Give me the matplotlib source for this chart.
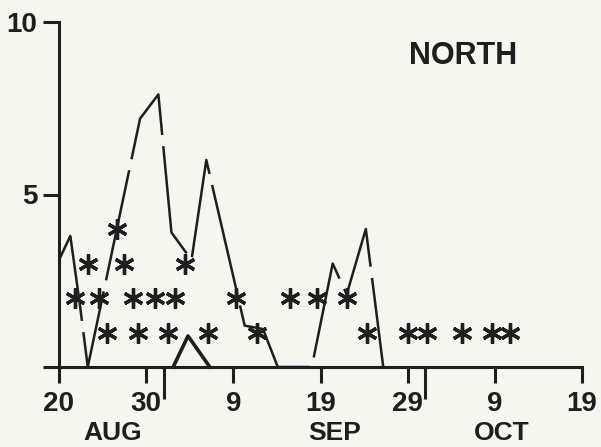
import matplotlib.pyplot as plt
from matplotlib.ticker import FixedLocator

# days counted from 20 AUG
line_day = [0, 1.3, 2.4, 3.3, 9.3, 11.4, 12.9, 15.2, 16.9, 21.3, 23.4, 25.1, 29, 31.4, 33, 35.2, 37.2]
line_val = [3.1, 3.8, 1.8, 0, 7.2, 7.9, 3.9, 3.1, 6.0, 1.2, 1.1, 0, 0, 3.0, 2.1, 4.0, 0]

star_day = [1.8, 3.3, 4.6, 5.5, 6.6, 7.4, 8.5, 9.1, 11.0, 12.5, 13.3, 14.4, 17.1,
            20.3, 22.7, 26.5, 29.6, 33.0, 35.3, 40.0, 42.2, 46.2, 49.7, 51.7]
star_val = [2, 3, 2, 1, 4, 3, 2, 1, 2, 1, 2, 3, 1,
            2, 1, 2, 2, 2, 1, 1, 1, 1, 1, 1]

tri_day = [13.1, 14.8, 17.3]
tri_val = [0, 0.9, 0]

tick_day = [0, 10, 20, 30, 40, 50, 60]
tick_lab = ['20', '30', '9', '19', '29', '9', '19']
month_start = [12, 42]
months = ['AUG', 'SEP', 'OCT']
month_day = [6.2, 31.6, 50.8]

ink = '#1e1e1e'
paper = '#f4f6ef'
plt.rcParams['font.family'] = ['Liberation Sans', 'DejaVu Sans']

fig = plt.figure(figsize=(6.01, 4.47), dpi=100, facecolor=paper)
ax = fig.add_axes([59 / 601, 1 - 367 / 447, (582 - 59) / 601, (367 - 22) / 447])
ax.set_facecolor(paper)

# main series, drawn as long dashes
ax.plot(line_day, line_val, color=ink, lw=1.8, dashes=(45, 4.5), clip_on=False)
# asterisks
ax.plot(star_day, star_val, ls='none', marker=(6, 2, 0), ms=14.5, mew=2.4, color=ink, clip_on=False)
# small triangle
ax.plot(tri_day, tri_val, color=ink, lw=2.6, clip_on=False)

ax.set_xlim(0, 60)
ax.set_ylim(0, 10)

for s in ['top', 'right']:
    ax.spines[s].set_visible(False)
for s in ['left', 'bottom']:
    ax.spines[s].set_linewidth(2.2)
    ax.spines[s].set_color(ink)

ax.set_xticks(tick_day)
ax.set_xticklabels(tick_lab, fontsize=20, fontweight='bold')
ax.xaxis.set_minor_locator(FixedLocator(month_start))
ax.tick_params(axis='x', which='major', length=11.5, width=2.2, color=ink, pad=6, labelcolor=ink)
ax.tick_params(axis='x', which='minor', length=23, width=2.2, color=ink)

ax.set_yticks([0, 5, 10])
ax.set_yticklabels(['', '5', '10'], fontsize=20, fontweight='bold')
ax.tick_params(axis='y', length=11.5, width=2.2, color=ink, pad=4, labelcolor=ink)

for m, d in zip(months, month_day):
    ax.text(d, -0.191, m, transform=ax.get_xaxis_transform(), ha='center', va='center',
            fontsize=19, fontweight='bold', color=ink)

ax.text(46.3, 9.0, 'NORTH', ha='center', va='center', fontsize=22, fontweight='bold', color=ink)

fig.savefig('out.png', dpi=100, facecolor=paper)
